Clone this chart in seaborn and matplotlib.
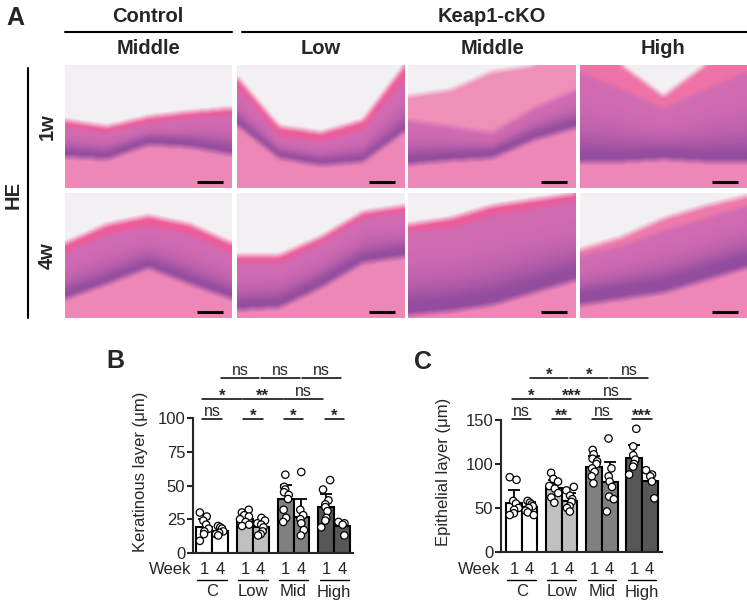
import numpy as np
import pandas as pd
import matplotlib
matplotlib.use("Agg")
import matplotlib.pyplot as plt
import matplotlib.transforms as mtransforms
import seaborn as sns

# ---------------- data ----------------
groups = ["C", "Low", "Mid", "High"]
weeks = ["1", "4"]
bar_colors = ["#ffffff", "#c0c0c0", "#808080", "#575757"]

# Keratinous layer (panel B); order C1, C4, Low1, Low4, Mid1, Mid4, High1, High4
ker_mean = [19, 16.5, 25.5, 19.5, 40, 27, 34, 20]
ker_sd = [6, 3, 4, 4.5, 10.5, 13, 10, 2.5]
ker_dots = [
    [30, 27, 24, 21, 18, 16, 14, 9],
    [20, 19, 18, 16, 15, 14, 13],
    [32, 30, 28, 27, 25, 23, 21, 20],
    [26, 24, 22, 21, 19, 16, 14, 13],
    [58, 49, 47, 45, 43, 40, 32, 26, 23],
    [60, 32, 28, 25, 22, 17, 13],
    [54, 47, 39, 36, 34, 31, 26, 24, 19],
    [23, 22, 21, 13],
]
# Epithelial layer (panel C)
epi_mean = [56, 51, 72.5, 58, 97, 79.5, 107, 81]
epi_sd = [15, 6, 9, 8.5, 12, 23, 14.5, 9]
epi_dots = [
    [85, 82, 58, 55, 50, 48, 44, 42],
    [58, 56, 54, 52, 50, 47, 45, 42],
    [90, 83, 80, 75, 72, 67, 62, 56],
    [74, 70, 64, 60, 57, 52, 50, 46],
    [116, 111, 106, 103, 100, 95, 91, 86, 78],
    [129, 95, 86, 80, 74, 63, 60, 46],
    [140, 120, 110, 105, 100, 97, 88],
    [93, 88, 86, 80, 61],
]
ker_sig_row1 = ["ns", "*", "*", "*"]
ker_sig_row2 = ["*", "**", "ns"]
ker_sig_row3 = ["ns", "ns", "ns"]
epi_sig_row1 = ["ns", "**", "ns", "***"]
epi_sig_row2 = ["*", "***", "ns"]
epi_sig_row3 = ["*", "*", "ns"]

col_heads = ["Middle", "Low", "Middle", "High"]
row_heads = ["1w", "4w"]

# ---------------- style ----------------
sns.set_style("ticks")
plt.rcParams["font.family"] = ["Liberation Sans", "DejaVu Sans"]
plt.rcParams["axes.linewidth"] = 1.5

W, H = 747, 604
fig = plt.figure(figsize=(W / 100, H / 100), dpi=100)


def fx(x):
    return x / W


def fy(y):
    return 1 - y / H


def add_ax_px(x0, y0, x1, y1):
    return fig.add_axes([fx(x0), fy(y1), (x1 - x0) / W, (y1 - y0) / H])


# ---------------- panel A (schematic H&E tiles) ----------------
C_WHITE = np.array([0.955, 0.945, 0.955])
C_KER = np.array([0.93, 0.36, 0.60])
C_EPI = np.array([0.82, 0.42, 0.70])
C_BAS = np.array([0.58, 0.30, 0.62])
C_STR = np.array([0.93, 0.53, 0.72])

tile_shapes = [
    # white-end, keratin-end, basal-start (control points across width), basal thickness, keratin tint
    ([0.45, 0.50, 0.42, 0.38, 0.35], [0.50, 0.55, 0.47, 0.43, 0.40], [0.70, 0.72, 0.60, 0.62, 0.68], 0.05, 0.0),
    ([0.10, 0.50, 0.55, 0.45, 0.00], [0.18, 0.58, 0.62, 0.53, 0.12], [0.45, 0.72, 0.78, 0.75, 0.50], 0.04, 0.0),
    ([0.25, 0.20, 0.05, 0.00, 0.00], [0.45, 0.50, 0.55, 0.35, 0.20], [0.75, 0.72, 0.70, 0.55, 0.45], 0.06, 0.35),
    ([0.00, 0.00, 0.25, 0.00, 0.00], [0.05, 0.20, 0.35, 0.20, 0.05], [0.72, 0.72, 0.70, 0.72, 0.72], 0.07, 0.15),
    ([0.40, 0.25, 0.18, 0.25, 0.40], [0.48, 0.33, 0.26, 0.33, 0.48], [0.80, 0.68, 0.55, 0.68, 0.80], 0.05, 0.0),
    ([0.50, 0.50, 0.35, 0.15, 0.10], [0.56, 0.56, 0.40, 0.20, 0.15], [0.88, 0.86, 0.70, 0.50, 0.45], 0.06, 0.0),
    ([0.25, 0.20, 0.10, 0.05, 0.00], [0.30, 0.28, 0.18, 0.12, 0.05], [0.88, 0.85, 0.80, 0.70, 0.60], 0.10, 0.0),
    ([0.45, 0.35, 0.20, 0.10, 0.02], [0.50, 0.42, 0.30, 0.20, 0.10], [0.80, 0.75, 0.70, 0.60, 0.50], 0.10, 0.2),
]


def make_tile(shape, h=124, w=167):
    wt, kt, bs, bw, tint = shape
    xs = np.linspace(0, 1, w)
    cp = np.linspace(0, 1, 5)
    b_w = np.interp(xs, cp, wt)
    b_k = np.interp(xs, cp, kt)
    b_b = np.interp(xs, cp, bs)
    ys = np.linspace(0, 1, h)[:, None]
    img = np.zeros((h, w, 3))
    img[:] = C_STR
    epi_mask = ys < (b_b + bw)
    t = np.clip((ys - b_k) / np.maximum(b_b - b_k, 1e-3), 0, 1)[..., None]
    epi_col = C_EPI * (1 - t ** 3) + C_BAS * (t ** 3)
    img = np.where(epi_mask[..., None], epi_col, img)
    bas_mask = (ys >= b_b) & (ys < b_b + bw)
    img = np.where(bas_mask[..., None], C_BAS, img)
    ker_col = C_KER * (1 - tint) + C_WHITE * tint
    img = np.where((ys < b_k)[..., None], ker_col, img)
    img = np.where((ys < b_w)[..., None], C_WHITE, img)
    k = 3
    pad = np.pad(img, ((k, k), (k, k), (0, 0)), mode="edge")
    out = np.zeros_like(img)
    for dy in range(-k, k + 1):
        for dx in range(-k, k + 1):
            out += pad[k + dy:k + dy + h, k + dx:k + dx + w]
    return out / (2 * k + 1) ** 2


tile_x = [(65, 232), (237, 404), (408, 576), (580, 747)]
tile_y = [(65, 188), (193, 318)]
idx = 0
for r, (y0, y1) in enumerate(tile_y):
    for c, (x0, x1) in enumerate(tile_x):
        tax = add_ax_px(x0, y0, x1, y1)
        tax.imshow(make_tile(tile_shapes[idx]), aspect="auto", interpolation="bilinear")
        tax.plot([0.79, 0.945], [0.045, 0.045], color="black", lw=2.2,
                 transform=tax.transAxes, solid_capstyle="butt")
        tax.set_axis_off()
        idx += 1

fig.text(fx(15), fy(18), "A", fontsize=18, fontweight="bold", ha="center", va="center")
fig.text(fx(148), fy(17), "Control", fontsize=14.5, fontweight="bold", ha="center", va="center")
fig.text(fx(492), fy(17), "Keap1-cKO", fontsize=14.5, fontweight="bold", ha="center", va="center")
fig.add_artist(plt.Line2D([fx(65), fx(232)], [fy(32), fy(32)], color="black", lw=1.5))
fig.add_artist(plt.Line2D([fx(242), fx(747)], [fy(32), fy(32)], color="black", lw=1.5))
for (x0, x1), lab in zip(tile_x, col_heads):
    fig.text(fx((x0 + x1) / 2), fy(49), lab, fontsize=14.5, fontweight="bold", ha="center", va="center")
for (y0, y1), lab in zip(tile_y, row_heads):
    fig.text(fx(47), fy((y0 + y1) / 2), lab, fontsize=14.5, fontweight="bold", ha="center",
             va="center", rotation=90)
fig.text(fx(13), fy(195), "HE", fontsize=14.5, fontweight="bold", ha="center", va="center", rotation=90)
fig.add_artist(plt.Line2D([fx(28), fx(28)], [fy(68), fy(318)], color="black", lw=1.5))


# ---------------- panels B & C ----------------
def bar_panel(box, xlim, ylim, yticks, means, sds, dots, ylabel, ylab_px, letter, letter_px,
              week_px, sig1, sig2, sig3):
    ax = add_ax_px(*box)
    rows = []
    for gi, g in enumerate(groups):
        for wi, wk in enumerate(weeks):
            rows.append({"group": g, "week": wk, "value": means[gi * 2 + wi]})
    df_m = pd.DataFrame(rows)
    drows = []
    for gi, g in enumerate(groups):
        for wi, wk in enumerate(weeks):
            for v in dots[gi * 2 + wi]:
                drows.append({"group": g, "week": wk, "value": v})
    df_d = pd.DataFrame(drows)

    sns.barplot(data=df_m, x="group", y="value", hue="week", order=groups, hue_order=weeks,
                width=0.78, gap=0, errorbar=None, palette=["white", "white"],
                edgecolor="black", linewidth=1.5, legend=False, ax=ax, zorder=2)
    for p in ax.patches:
        cx = p.get_x() + p.get_width() / 2
        p.set_facecolor(bar_colors[int(round(cx))])
    xs = []
    for gi in range(len(groups)):
        xs += [gi - 0.195, gi + 0.195]
    ax.errorbar(xs, means, yerr=[np.zeros(len(sds)), sds], fmt="none", ecolor="black",
                elinewidth=1.3, capsize=4, capthick=1.3, zorder=3)
    np.random.seed(7)
    sns.stripplot(data=df_d, x="group", y="value", hue="week", order=groups, hue_order=weeks,
                  dodge=True, jitter=0.24, palette=["white", "white"], edgecolor="black",
                  linewidth=0.9, size=5.3, legend=False, ax=ax, zorder=4)

    ax.set_xlim(*xlim)
    ax.set_ylim(*ylim)
    ax.set_yticks(yticks)
    ax.set_yticklabels([str(t) for t in yticks])
    ax.tick_params(axis="y", direction="out", length=4, width=1.5, labelsize=12, pad=1.5)
    ax.tick_params(axis="x", length=0, labelbottom=False)
    ax.set_xlabel("")
    ax.set_ylabel("")
    sns.despine(ax=ax)
    for s in ["left", "bottom"]:
        ax.spines[s].set_linewidth(1.5)

    fig.text(fx(ylab_px[0]), fy(ylab_px[1]), ylabel, fontsize=12, rotation=90, ha="center", va="center")
    fig.text(fx(letter_px[0]), fy(letter_px[1]), letter, fontsize=18, fontweight="bold",
             ha="center", va="center")

    tr = mtransforms.blended_transform_factory(ax.transData, fig.transFigure)
    fig.text(fx(week_px), fy(569), "Week", fontsize=12, ha="right", va="center")
    for gi, g in enumerate(groups):
        ax.text(gi - 0.19, fy(569), "1", fontsize=12, ha="center", va="center", transform=tr)
        ax.text(gi + 0.19, fy(569), "4", fontsize=12, ha="center", va="center", transform=tr)
        ax.plot([gi - 0.36, gi + 0.36], [fy(580), fy(580)], color="black", lw=1.0,
                transform=tr, clip_on=False)
        ax.text(gi, fy(592), g, fontsize=12, ha="center", va="center", transform=tr)

    def sig(x0, x1, yline, label):
        ax.plot([x0, x1], [fy(yline), fy(yline)], color="black", lw=1.1, transform=tr, clip_on=False)
        if label == "ns":
            ax.text((x0 + x1) / 2, fy(yline - 7.5), label, fontsize=11.5, ha="center", va="center",
                    transform=tr)
        else:
            ax.text((x0 + x1) / 2, fy(yline - 2.5), label, fontsize=12, fontweight="bold",
                    ha="center", va="center", transform=tr)

    for gi, lab in enumerate(sig1):
        sig(gi - 0.24, gi + 0.24, 419, lab)
    for gi, lab in enumerate(sig2):
        sig(gi - 0.24, gi + 0.73, 399, lab)
    for gi, lab in enumerate(sig3):
        sig(gi + 0.21, gi + 1.16, 378, lab)
    return ax


bar_panel((193, 418, 353, 553), (-0.47, 3.46), (0, 100), [0, 25, 50, 75, 100],
          ker_mean, ker_sd, ker_dots, "Keratinous layer (μm)", (140, 472), "B", (115, 361), 191,
          ker_sig_row1, ker_sig_row2, ker_sig_row3)
bar_panel((501, 420, 662, 552), (-0.52, 3.5), (0, 150), [0, 50, 100, 150],
          epi_mean, epi_sd, epi_dots, "Epithelial layer (μm)", (443, 472), "C", (423, 362), 500,
          epi_sig_row1, epi_sig_row2, epi_sig_row3)

fig.savefig("out.png", dpi=100)
